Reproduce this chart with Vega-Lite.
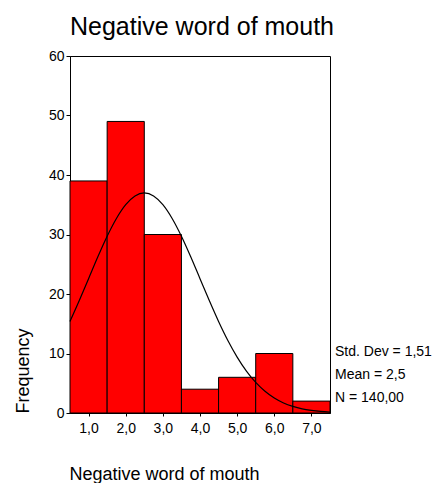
{
  "$schema": "https://vega.github.io/schema/vega-lite/v6.json",
  "autosize": {"type": "none"},
  "width": 260,
  "height": 357,
  "padding": {"left": 70, "top": 56, "right": 105, "bottom": 70},
  "background": "white",
  "config": {
    "font": "Liberation Sans",
    "view": {"stroke": "black", "strokeWidth": 1},
    "axis": {"grid": false, "domainColor": "black", "tickColor": "black", "labelColor": "black", "titleColor": "black", "labelFont": "Liberation Sans", "titleFont": "Liberation Sans", "titleFontWeight": "normal"}
  },
  "title": {
    "text": "Negative word of mouth",
    "anchor": "start",
    "frame": "group",
    "fontSize": 25,
    "fontWeight": "normal",
    "color": "black",
    "font": "Liberation Sans",
    "baseline": "bottom",
    "offset": 17,
    "dy": 33
  },
  "datasets": {
    "bars": [
      {"x0": 0.5, "x1": 1.5, "count": 39},
      {"x0": 1.5, "x1": 2.5, "count": 49},
      {"x0": 2.5, "x1": 3.5, "count": 30},
      {"x0": 3.5, "x1": 4.5, "count": 4},
      {"x0": 4.5, "x1": 5.5, "count": 6},
      {"x0": 5.5, "x1": 6.5, "count": 10},
      {"x0": 6.5, "x1": 7.5, "count": 2}
    ],
    "curve": [
      {"x": 0.5, "f": 15.39}, {"x": 0.75, "f": 18.90}, {"x": 1.0, "f": 22.58}, {"x": 1.25, "f": 26.26},
      {"x": 1.5, "f": 29.71}, {"x": 1.75, "f": 32.70}, {"x": 2.0, "f": 35.02}, {"x": 2.25, "f": 36.49},
      {"x": 2.5, "f": 36.99}, {"x": 2.75, "f": 36.49}, {"x": 3.0, "f": 35.02}, {"x": 3.25, "f": 32.70},
      {"x": 3.5, "f": 29.71}, {"x": 3.75, "f": 26.26}, {"x": 4.0, "f": 22.58}, {"x": 4.25, "f": 18.90},
      {"x": 4.5, "f": 15.39}, {"x": 4.75, "f": 12.19}, {"x": 5.0, "f": 9.40}, {"x": 5.25, "f": 7.04},
      {"x": 5.5, "f": 5.14}, {"x": 5.75, "f": 3.65}, {"x": 6.0, "f": 2.52}, {"x": 6.25, "f": 1.69},
      {"x": 6.5, "f": 1.11}, {"x": 6.75, "f": 0.70}, {"x": 7.0, "f": 0.44}, {"x": 7.25, "f": 0.26},
      {"x": 7.5, "f": 0.15}
    ],
    "stats": [
      {"label": "Std. Dev = 1,51", "pos": 9.6},
      {"label": "Mean = 2,5", "pos": 5.75},
      {"label": "N = 140,00", "pos": 1.9}
    ]
  },
  "layer": [
    {
      "data": {"name": "bars"},
      "mark": {"type": "rect", "fill": "#FF0000", "stroke": "black", "strokeWidth": 1},
      "encoding": {
        "x": {
          "field": "x0", "type": "quantitative",
          "scale": {"domain": [0.5, 7.5], "nice": false, "zero": false},
          "axis": {
            "values": [1, 2, 3, 4, 5, 6, 7],
            "labelExpr": "replace(format(datum.value, '.1f'), '.', ',')",
            "labelFontSize": 14,
            "labelPadding": 5,
            "tickSize": 3,
            "title": "Negative word of mouth",
            "titleFontSize": 18,
            "titleAnchor": "start",
            "titleAlign": "left",
            "titleBaseline": "alphabetic",
            "titleX": -1,
            "titleY": 66
          }
        },
        "x2": {"field": "x1"},
        "y": {
          "field": "count", "type": "quantitative",
          "scale": {"domain": [0, 60], "nice": false},
          "axis": {
            "values": [0, 10, 20, 30, 40, 50, 60],
            "labelFontSize": 14,
            "tickSize": 4,
            "labelPadding": 2,
            "title": "Frequency",
            "titleFontSize": 18,
            "titleAngle": 270,
            "titleAlign": "left",
            "titleBaseline": "alphabetic",
            "titleX": -42,
            "titleY": 357
          }
        },
        "y2": {"datum": 0}
      }
    },
    {
      "data": {"name": "curve"},
      "mark": {"type": "line", "color": "black", "strokeWidth": 1.2, "interpolate": "monotone"},
      "encoding": {
        "x": {"field": "x", "type": "quantitative"},
        "y": {"field": "f", "type": "quantitative"}
      }
    },
    {
      "data": {"name": "stats"},
      "mark": {"type": "text", "align": "left", "baseline": "alphabetic", "dx": 5, "fontSize": 14, "font": "Liberation Sans", "color": "black", "clip": false},
      "encoding": {
        "x": {"datum": 7.5, "type": "quantitative"},
        "y": {"field": "pos", "type": "quantitative"},
        "text": {"field": "label"}
      }
    }
  ]
}
